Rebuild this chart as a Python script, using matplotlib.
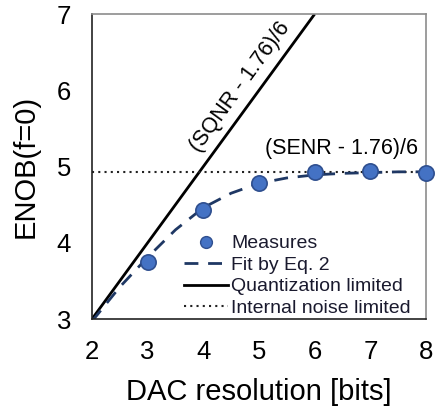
import matplotlib
matplotlib.use("Agg")
import matplotlib.pyplot as plt
from matplotlib.lines import Line2D

plt.rcParams["font.family"] = ["Liberation Sans", "DejaVu Sans"]

# measured ENOB per DAC resolution
bits = [3, 4, 5, 6, 7, 8]
enob_meas = [3.75, 4.43, 4.78, 4.93, 4.94, 4.92]

# fitted curve (Eq. 2), read at half-bit steps
fit_bits = [2, 2.5, 3, 3.5, 4, 4.5, 5, 5.5, 6, 6.5, 7, 7.5, 8]
fit_enob = [2.97, 3.42, 3.81, 4.17, 4.46, 4.65, 4.78, 4.85, 4.89, 4.91, 4.92, 4.93, 4.93]

# quantization-limited line and internal-noise floor
quant_bits = [2, 6]
quant_enob = [3, 7]
noise_floor = 4.93

fig = plt.figure(figsize=(4.37, 4.13), dpi=100)
ax = fig.add_axes([0.2105, 0.2276, 0.7645, 0.7385])

navy = "#1F3864"
ax.plot(quant_bits, quant_enob, color="black", lw=2.0, solid_capstyle="butt")
ax.axhline(noise_floor, color="#222222", lw=1.5, ls=(0, (1, 2)))
ax.plot(fit_bits, fit_enob, color=navy, lw=2.0, ls=(0, (5, 3.5)))
ax.plot(bits, enob_meas, ls="none", marker="o", ms=11, mfc="#4472C4",
        mec="#2F4F8F", mew=1.2, clip_on=False, zorder=5)

ax.set_xlim(2, 8)
ax.set_ylim(3, 7)
ax.set_xticks(range(2, 9))
ax.set_yticks(range(3, 8))
ax.tick_params(length=0, labelsize=18.5, pad=15)
for side in ("top", "right"):
    ax.spines[side].set_color("#8c8c8c")
for side in ("left", "bottom"):
    ax.spines[side].set_color("#222222")
for sp in ax.spines.values():
    sp.set_linewidth(1.2)

ax.set_xlabel("DAC resolution [bits]", fontsize=21, labelpad=10)
ax.set_ylabel("ENOB(f=0)", fontsize=21, labelpad=12)

ax.text(4.66, 6.04, "(SQNR - 1.76)/6", rotation=54, fontsize=15.5,
        ha="center", va="center", rotation_mode="anchor")
ax.text(6.48, 5.24, "(SENR - 1.76)/6", fontsize=15.5, ha="center", va="center")

handles = [
    Line2D([], [], ls="none", marker="o", ms=8.5, mfc="#4472C4", mec="#2F4F8F"),
    Line2D([], [], color=navy, lw=2.0, ls=(0, (5, 3.5))),
    Line2D([], [], color="black", lw=2.0),
    Line2D([], [], color="#222222", lw=1.5, ls=(0, (1, 2))),
]
labels = ["Measures", "Fit by Eq. 2", "Quantization limited", "Internal noise limited"]
ax.legend(handles, labels, loc="lower right", bbox_to_anchor=(0.972, -0.012),
          frameon=False, fontsize=14, handlelength=2.3, handletextpad=0.15,
          labelspacing=0.2, borderaxespad=0.1, borderpad=0.2,
          labelcolor="#1a1a2e")

fig.savefig("out.png", dpi=100)
